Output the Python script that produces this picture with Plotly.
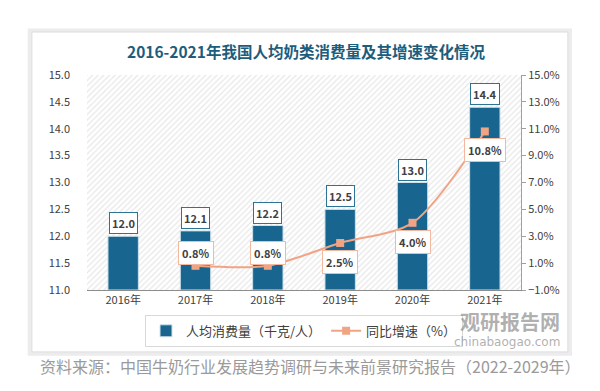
import plotly.graph_objects as go

years = ["2016年", "2017年", "2018年", "2019年", "2020年", "2021年"]
consumption = [12.0, 12.1, 12.2, 12.5, 13.0, 14.4]
growth = [None, 0.8, 0.8, 2.5, 4.0, 10.8]
growth_labels = ["", "0.8%", "0.8%", "2.5%", "4.0%", "10.8%"]
label_above = [True, True, True, False, False, False]

xi = list(range(len(years)))
FONT = "Noto Sans CJK SC"
BAR = "#186690"
LINE = "#f0a484"

fig = go.Figure()

# hatched plot background
fig.add_trace(go.Bar(
    x=[2.5], y=[4], base=[11], width=[6], yaxis="y",
    marker=dict(color="white", line=dict(width=0),
                pattern=dict(shape="/", fgcolor="#cfcfcf", bgcolor="white", size=4, solidity=0.3)),
    showlegend=False, hoverinfo="skip"))

fig.add_trace(go.Bar(
    x=xi, y=[v - 11 for v in consumption], base=11, width=0.42,
    name="人均消费量（千克/人）",
    marker=dict(color=BAR, line=dict(color="#cfe0ea", width=1)),
    yaxis="y"))

fig.add_trace(go.Scatter(
    x=xi, y=growth, name="同比增速（%）", yaxis="y2",
    mode="lines+markers", line=dict(color=LINE, width=2, shape="spline", smoothing=0.8),
    marker=dict(symbol="square", size=8, color=LINE),
    connectgaps=False))

annotations = []
for i, v in enumerate(consumption):
    annotations.append(dict(
        x=i, y=v, xref="x", yref="y", text=f"<b>{v:.1f}</b>", showarrow=False,
        yshift=13, bgcolor="white", bordercolor="#2d7393", borderwidth=1, borderpad=2,
        font=dict(family=FONT, size=11, color="#404040")))
for i, g in enumerate(growth):
    if g is None:
        continue
    annotations.append(dict(
        x=i, y=g, xref="x", yref="y2", text=f"<b>{growth_labels[i]}</b>", showarrow=False,
        yshift=13 if label_above[i] else -19, bgcolor="white", bordercolor="#f2b9a0",
        borderwidth=1, borderpad=3,
        font=dict(family=FONT, size=11, color="#404040")))

# title
annotations.append(dict(
    x=0.505, y=1.112, xref="paper", yref="paper", yanchor="middle",
    text="<b>2016-2021年我国人均奶类消费量及其增速变化情况</b>", showarrow=False,
    font=dict(family=FONT, size=15.5, color="#1d5d7c")))
# watermark
annotations.append(dict(
    x=1.094, y=-0.146, xref="paper", yref="paper", xanchor="right", yanchor="middle",
    text="<b>观研报告网</b>", showarrow=False,
    font=dict(family=FONT, size=20, color="rgba(150,150,150,0.75)")))
annotations.append(dict(
    x=1.094, y=-0.24, xref="paper", yref="paper", xanchor="right", yanchor="middle",
    text="chinabaogao.com", showarrow=False,
    font=dict(family="DejaVu Sans", size=12, color="rgba(150,150,150,0.75)")))
# source
annotations.append(dict(
    x=-0.113, y=-0.355, xref="paper", yref="paper", xanchor="left", yanchor="middle",
    text="资料来源：中国牛奶行业发展趋势调研与未来前景研究报告（2022-2029年）", showarrow=False,
    font=dict(family=FONT, size=16, color="#9a9a9a")))

shapes = [
    # card shadow
    dict(type="rect", xref="paper", yref="paper", x0=-0.132, x1=1.113, y0=-0.296, y1=1.207,
         line=dict(color="#ececec", width=4), fillcolor="white", layer="below"),
    dict(type="rect", xref="paper", yref="paper", x0=-0.127, x1=1.108, y0=-0.288, y1=1.2,
         line=dict(color="#dcdcdc", width=1), fillcolor="white", layer="below"),
]

fig.update_layout(
    width=600, height=391,
    margin=dict(l=87, r=79, t=75, b=101, autoexpand=False),
    paper_bgcolor="white", plot_bgcolor="white",
    barmode="overlay",
    font=dict(family=FONT, size=11, color="#404040"),
    xaxis=dict(range=[-0.5, 5.5], tickvals=xi, ticktext=years, showgrid=False,
               showline=True, linecolor="#8c8c8c", linewidth=1, ticks="",
               tickfont=dict(size=11, color="#404040"), zeroline=False, fixedrange=True),
    yaxis=dict(range=[11, 15], dtick=0.5, tickformat=".1f", showgrid=False,
               showline=False, zeroline=False, ticks="", ticklabelstandoff=16,
               tickfont=dict(size=11, color="#404040")),
    yaxis2=dict(range=[-1, 15], tick0=-1, dtick=2, tickformat=".1f", ticksuffix="%",
                overlaying="y", side="right", showgrid=False, zeroline=False,
                showline=True, linecolor="#a0a0a0", linewidth=1,
                ticks="outside", ticklen=4, tickcolor="#a0a0a0",
                tickfont=dict(size=11, color="#404040")),
    legend=dict(orientation="h", x=0.5, y=-0.19, xanchor="center", yanchor="middle",
                bordercolor="#d9d9d9", borderwidth=1, bgcolor="rgba(255,255,255,0)",
                font=dict(family=FONT, size=13, color="#404040"),
                itemwidth=30, tracegroupgap=0),
    annotations=annotations,
    shapes=shapes,
)

fig.write_html("out.html", config={"displayModeBar": False},
               post_script="document.body.style.margin='0';")
